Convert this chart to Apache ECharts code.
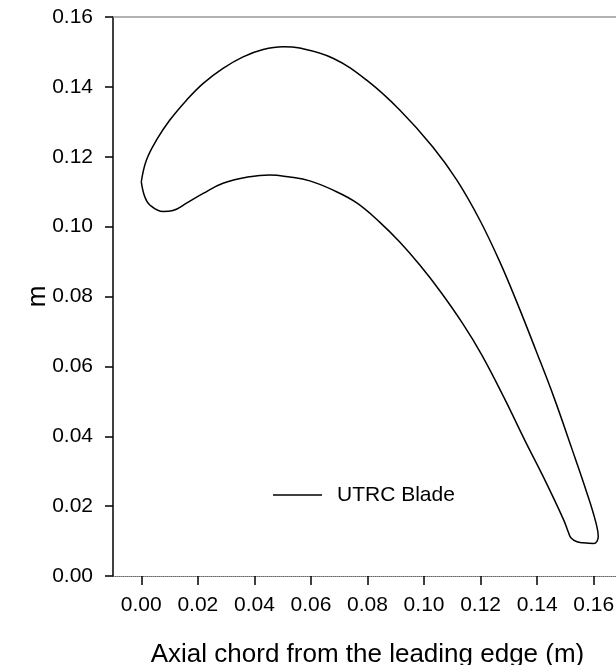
<!DOCTYPE html>
<html>
<head>
<meta charset="utf-8">
<script src="https://cdn.jsdelivr.net/npm/echarts@6/dist/echarts.min.js"></script>
<style>
  html, body { margin: 0; padding: 0; background: #fff; }
  #chart { width: 616px; height: 665px; }
</style>
</head>
<body>
<div id="chart"></div>
<script>
// suction side, leading edge -> trailing edge
const suctionX = [0.0000, 0.0018, 0.0054, 0.0101, 0.0160, 0.0219, 0.0289, 0.0360, 0.0431, 0.0501,
  0.0560, 0.0678, 0.0796, 0.0914, 0.1031, 0.1116, 0.1197, 0.1268, 0.1332, 0.1395, 0.1459,
  0.1522, 0.1575, 0.1607, 0.1616, 0.1600];
const suctionY = [0.1128, 0.1190, 0.1248, 0.1305, 0.1362, 0.1410, 0.1453, 0.1486, 0.1507, 0.1515,
  0.1511, 0.1482, 0.1420, 0.1334, 0.1228, 0.1133, 0.1019, 0.0899, 0.0776, 0.0647, 0.0512,
  0.0366, 0.0240, 0.0155, 0.0112, 0.0093];
// pressure side, trailing edge -> leading edge
const pressureX = [0.1562, 0.1541, 0.1520, 0.1510, 0.1494, 0.1427, 0.1356, 0.1282, 0.1204, 0.1138,
  0.1059, 0.0985, 0.0914, 0.0843, 0.0762, 0.0677, 0.0596, 0.0525, 0.0454, 0.0384, 0.0289,
  0.0219, 0.0160, 0.0112, 0.0077, 0.0030, 0.0012, 0.0000];
const pressureY = [0.0095, 0.0098, 0.0109, 0.0126, 0.0160, 0.0275, 0.0389, 0.0512, 0.0633, 0.0721,
  0.0813, 0.0890, 0.0956, 0.1013, 0.1068, 0.1105, 0.1131, 0.1142, 0.1148, 0.1143, 0.1124,
  0.1095, 0.1067, 0.1046, 0.1043, 0.1062, 0.1086, 0.1128];
const xTicks = [0, 0.02, 0.04, 0.06, 0.08, 0.10, 0.12, 0.14, 0.16];
const seriesName = 'UTRC Blade';

const blade = suctionX.map((x, i) => [x, suctionY[i]])
  .concat(pressureX.map((x, i) => [x, pressureY[i]]));

const font = 'Liberation Sans, Arial, sans-serif';
const chart = echarts.init(document.getElementById('chart'));
chart.setOption({
  animation: false,
  grid: { left: 113, top: 17, right: -6, bottom: 89, containLabel: false, outerBoundsMode: 'none' },
  legend: {
    data: [seriesName],
    left: 273, top: 484, padding: 0,
    icon: 'rect', itemWidth: 49, itemHeight: 1.5,
    itemStyle: { color: '#000' },
    textStyle: { fontFamily: font, fontSize: 21, lineHeight: 22, color: '#000', padding: [0, 0, 0, 10] }
  },
  xAxis: [{
    type: 'value', min: -0.01, max: 0.17,
    name: 'Axial chord from the leading edge (m)',
    nameLocation: 'middle', nameGap: 66, nameMoveOverlap: false,
    nameTextStyle: { fontFamily: font, fontSize: 26, color: '#000' },
    splitLine: { show: false },
    axisLine: { show: true, onZero: false, lineStyle: { color: '#666', type: 'dotted', width: 1 } },
    axisTick: { show: true, length: 9, customValues: xTicks, lineStyle: { color: '#000', width: 1.5 } },
    axisLabel: { customValues: xTicks, margin: 19, fontFamily: font, fontSize: 21, color: '#000',
      formatter: v => v.toFixed(2) }
  }, {
    type: 'value', position: 'top', min: -0.01, max: 0.17,
    axisLine: { show: true, onZero: false, lineStyle: { color: '#999', width: 1.5 } },
    axisTick: { show: false }, axisLabel: { show: false }, splitLine: { show: false }
  }],
  yAxis: {
    type: 'value', min: 0, max: 0.16, interval: 0.02,
    name: 'm', nameLocation: 'middle', nameGap: 62, nameMoveOverlap: false,
    nameTextStyle: { fontFamily: font, fontSize: 26, color: '#000' },
    splitLine: { show: false },
    axisLine: { show: true, onZero: false, lineStyle: { color: '#000', width: 1.5 } },
    axisTick: { show: true, length: 8, lineStyle: { color: '#000', width: 1.5 } },
    axisLabel: { margin: 20, fontFamily: font, fontSize: 21, color: '#000',
      formatter: v => v.toFixed(2) }
  },
  series: [{
    name: seriesName, type: 'line', data: blade,
    symbol: 'none', smooth: 0.4,
    lineStyle: { color: '#000', width: 1.5 },
    itemStyle: { color: '#000' }
  }]
});
</script>
</body>
</html>
